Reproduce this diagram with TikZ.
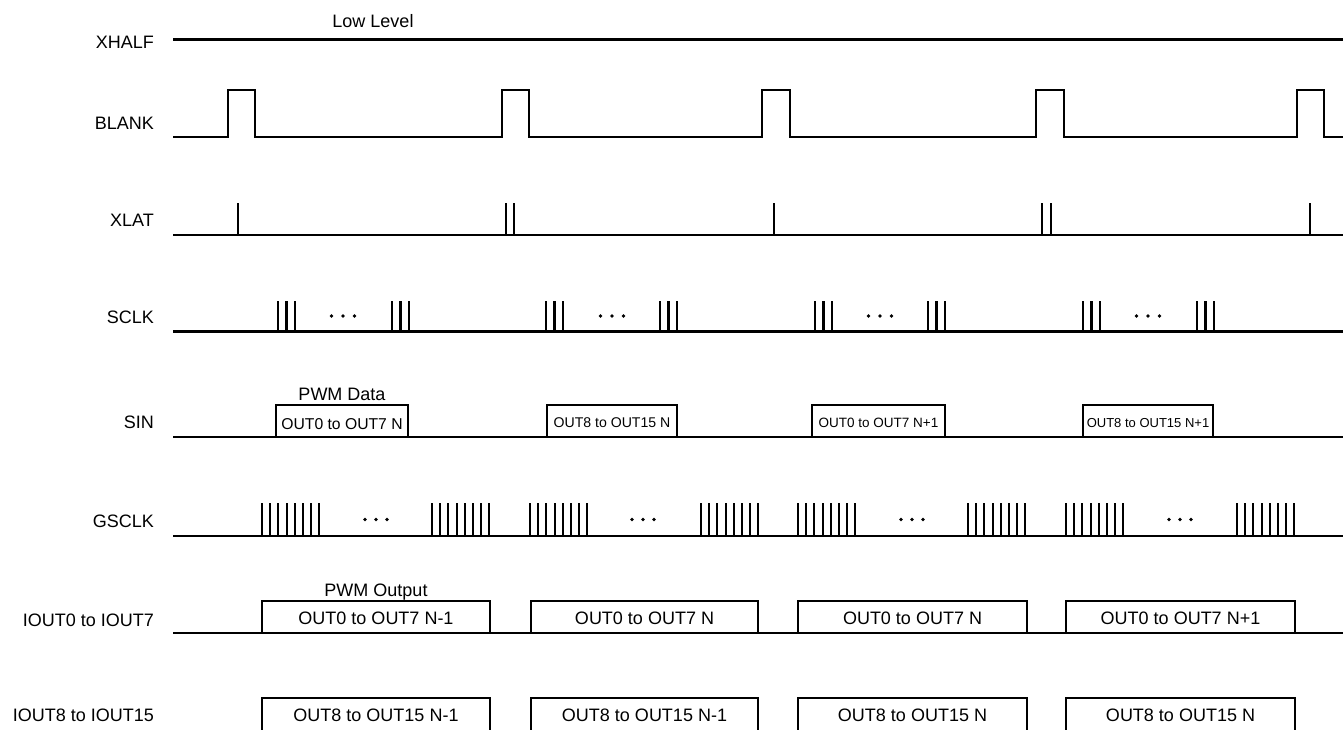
\documentclass[tikz,border=0pt]{standalone}
\usepackage{fontspec}
\setmainfont{Liberation Sans}
\begin{document}
\begin{tikzpicture}[x=1pt,y=-1pt,
  sig/.style={line width=2.3pt, line join=miter, line cap=butt},
  tick/.style={line width=2.1pt, line cap=butt},
  lbl/.style={anchor=base east, inner sep=0pt, font=\fontsize{18}{20}\selectfont},
  txt/.style={anchor=base, inner sep=0pt, font=\fontsize{18}{20}\selectfont},
  dotmark/.style={fill=black, draw=none}]
\useasboundingbox (0,0) rectangle (1343,729);
\clip (0,0) rectangle (1343,729);

% ---- row labels
\node[lbl] (lxhalf) at (154,48) {XHALF};
\node[lbl] (lblank) at (154,129) {BLANK};
\node[lbl] (lxlat) at (154,226) {XLAT};
\node[lbl] (lsclk) at (154,323) {SCLK};
\node[lbl] (lsin) at (154,428) {SIN};
\node[lbl] (lgsclk) at (154,527) {GSCLK};
\node[lbl] (liout0) at (154,626) {IOUT0 to IOUT7};
\node[lbl] (liout8) at (154,721) {IOUT8 to IOUT15};

% ---- XHALF
\draw[sig] (173,39.5) -- (1343,39.5);
\node[txt] (lowlevel) at (373,27) {Low Level};

% ---- BLANK
\draw[sig] (173,137) -- (228,137) -- (228,90) -- (255,90) -- (255,137)
  -- (502,137) -- (502,90) -- (529,90) -- (529,137)
  -- (762,137) -- (762,90) -- (790,90) -- (790,137)
  -- (1036,137) -- (1036,90) -- (1064,90) -- (1064,137)
  -- (1297,137) -- (1297,90) -- (1324,90) -- (1324,137) -- (1343,137);

% ---- XLAT
\draw[sig] (173,235) -- (1343,235);
\foreach \x in {238,506,514,774,1042,1051,1310}
  \draw[tick] (\x,235) -- (\x,203);

% ---- SCLK
\draw[sig] (173,331.5) -- (1343,331.5);
\foreach \g in {278,392,546,660,815,928,1083,1197}
  \foreach \k in {0,1,2}
    \draw[tick] ({\g+8.5*\k},331.5) -- ({\g+8.5*\k},301);
\foreach \c in {343,612,880,1148}
  \foreach \k in {-1,0,1}
    \fill[dotmark] ({\c+11.5*\k},316) circle (1.9);

% ---- SIN
\draw[sig] (173,437) -- (1343,437);
\foreach \a/\b in {276/408,547/677,812/945,1083/1213}
  \draw[sig] (\a,437) -- (\a,405) -- (\b,405) -- (\b,437);
\node[txt] (pwmdata) at (342,400) {PWM Data};
\node[anchor=base, inner sep=0pt, font=\fontsize{15.7}{17}\selectfont] (sin1) at (342,429) {OUT0 to OUT7 N};
\node[anchor=base, inner sep=0pt, font=\fontsize{14.1}{16}\selectfont] (sin2) at (612,427) {OUT8 to OUT15 N};
\node[anchor=base, inner sep=0pt, font=\fontsize{13.5}{15}\selectfont] (sin3) at (878.5,427) {OUT0 to OUT7 N+1};
\node[anchor=base, inner sep=0pt, font=\fontsize{13}{15}\selectfont] (sin4) at (1148,427) {OUT8 to OUT15 N+1};

% ---- GSCLK
\draw[sig] (173,536) -- (1343,536);
\foreach \g in {262,432,530,701,798,968,1066,1237}
  \foreach \k in {0,...,7}
    \draw[tick] ({\g+8.2*\k},536) -- ({\g+8.2*\k},503);
\foreach \c in {376,643,912,1180}
  \foreach \k in {-1,0,1}
    \fill[dotmark] ({\c+11*\k},519.5) circle (1.9);

% ---- IOUT0 to IOUT7
\draw[sig] (173,633) -- (1343,633);
\foreach \a/\b in {262/490,531/758,798/1027,1066/1295}
  \draw[sig] (\a,633) -- (\a,601) -- (\b,601) -- (\b,633);
\node[txt] (pwmout) at (376,596) {PWM Output};
\node[txt] (io1) at (376,624.5) {OUT0 to OUT7 N-1};
\node[txt] (io2) at (644.5,624.5) {OUT0 to OUT7 N};
\node[txt] (io3) at (912.5,624.5) {OUT0 to OUT7 N};
\node[txt] (io4) at (1180.5,624.5) {OUT0 to OUT7 N+1};

% ---- IOUT8 to IOUT15
\draw[sig] (173,731) -- (1343,731);
\foreach \a/\b in {262/490,531/758,798/1027,1066/1295}
  \draw[sig] (\a,731) -- (\a,698) -- (\b,698) -- (\b,731);
\node[txt] (ip1) at (376,721) {OUT8 to OUT15 N-1};
\node[txt] (ip2) at (644.5,721) {OUT8 to OUT15 N-1};
\node[txt] (ip3) at (912.5,721) {OUT8 to OUT15 N};
\node[txt] (ip4) at (1180.5,721) {OUT8 to OUT15 N};
\end{tikzpicture}
\end{document}
